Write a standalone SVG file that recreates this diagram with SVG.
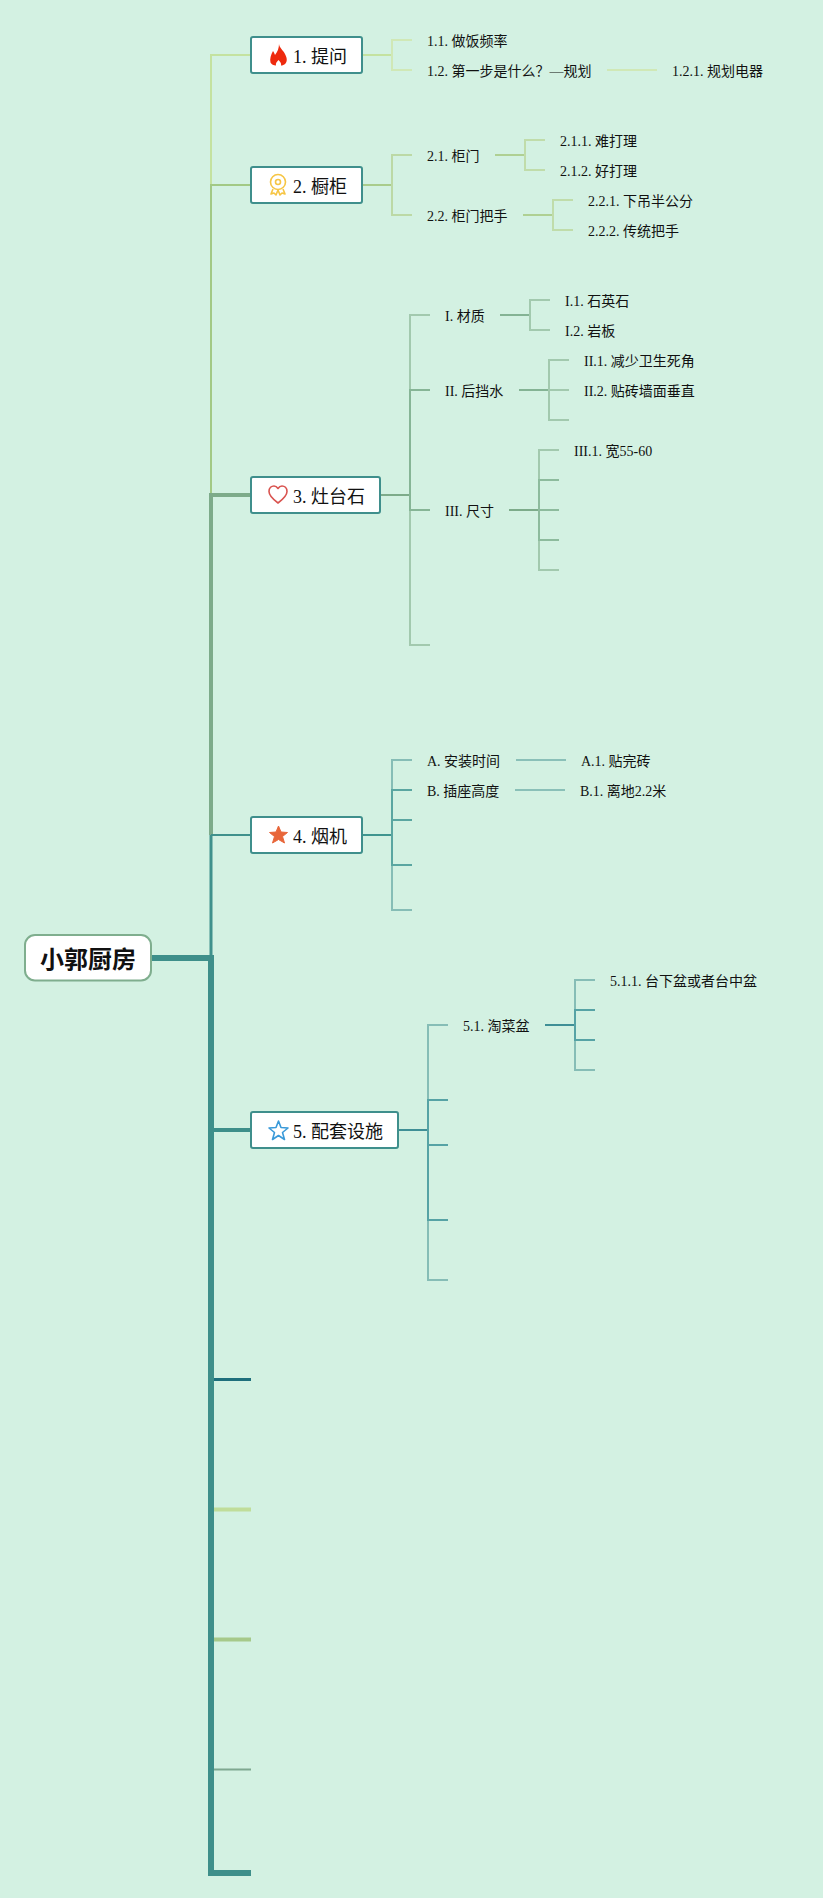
<svg xmlns="http://www.w3.org/2000/svg" width="823" height="1898" viewBox="0 0 823 1898">
<style>
text{font-family:"Liberation Serif","Noto Sans CJK SC",serif;fill:#111}
.s{font-size:14px}.t{font-size:18px}
.r{font-family:"Liberation Sans","Noto Sans CJK SC",sans-serif;font-size:24px;font-weight:700;text-anchor:middle}
.box{fill:#fff;stroke:#3f8f8c;stroke-width:2}
.icon{fill:none;stroke-width:1.6;stroke-linejoin:round}
</style>
<rect width="823" height="1898" fill="#d3f1e2"/>
<g id="connectors" fill="none" stroke-width="2">
<path d="M251 55H211V185" stroke="#c4e2a0"/>
<path d="M251 185H211V495" stroke="#a2c985"/>
<path d="M251 495H211V835" stroke="#7dab8a" stroke-width="4"/>
<path d="M211 835V958" stroke="#3f918c" stroke-width="3"/>
<path d="M211 835H251" stroke="#3f918c" stroke-width="2"/>
<path d="M151 958H211V1873H251" stroke="#3e8f8a" stroke-width="6"/>
<path d="M214 1130H251" stroke="#3e8f8a" stroke-width="4"/>
<path d="M214 1379.500H251" stroke="#1e6f7c" stroke-width="3"/>
<path d="M214 1509.500H251" stroke="#c0dd9a" stroke-width="4"/>
<path d="M214 1639.500H251" stroke="#a6c98a" stroke-width="4"/>
<path d="M214 1769.500H251" stroke="#7fa890"/>
<path d="M362 55H392" stroke="#c4e2a0"/>
<path d="M412 40H392V70H412" stroke="#d0e8b6"/>
<path d="M607 70H657" stroke="#d0e8b6"/>
<path d="M362 185H392" stroke="#a9cc8c"/>
<path d="M412 155H392V215H412" stroke="#bcd9a6"/>
<path d="M495 155H525" stroke="#afd093"/>
<path d="M545 140H525V170H545" stroke="#c0dcaa"/>
<path d="M523 215H553" stroke="#afd093"/>
<path d="M573 200H553V230H573" stroke="#c0dcaa"/>
<path d="M380 495H410" stroke="#7dab8a"/>
<path d="M430 315H410V645H430" stroke="#a2c9ae"/>
<path d="M430 390H410V510H430" stroke="#86b596"/>
<path d="M500 315H530" stroke="#84b394"/>
<path d="M550 300H530V330H550" stroke="#a2c9ae"/>
<path d="M519 390H549" stroke="#84b394"/>
<path d="M569 360H549V420H569M549 390H569" stroke="#a2c9ae"/>
<path d="M509 510H539" stroke="#7dab8a"/>
<path d="M559 450H539V570H559" stroke="#a2c9ae"/>
<path d="M559 480H539V540H559M539 510H559" stroke="#8dbb9d"/>
<path d="M362 835H392" stroke="#3f958f"/>
<path d="M412 760H392V910H412" stroke="#86bdb6"/>
<path d="M412 790H392V865H412M392 820H412" stroke="#5aa6a1"/>
<path d="M516 760H566M515 790H565" stroke="#8ac0b8"/>
<path d="M398 1130H428" stroke="#3f8f96"/>
<path d="M448 1025H428V1280H448" stroke="#86bdb6"/>
<path d="M448 1100H428V1220H448M428 1145H448" stroke="#56a3a5"/>
<path d="M545 1025H575" stroke="#3f8f96"/>
<path d="M595 980H575V1070H595" stroke="#86bdb6"/>
<path d="M595 1010H575V1040H595" stroke="#56a3a5"/>
</g>
<g id="root"><rect x="25" y="935" width="126" height="45.500" rx="10" fill="#fff" stroke="#7fae8e" stroke-width="2"/><text class="r" x="88" y="968">小郭厨房</text></g>
<g id="topic1"><rect class="box" x="251" y="37" width="111" height="36" rx="2"/><path d="M279 44C279.500 48 283 50 285 54C287 58 287.500 61 285.500 63.500C284 65 282.500 65.500 281 65.500C281.500 63.500 280.500 62 278.500 60C276.500 62 275.500 63.500 276 65.500C273.500 65.500 271.500 64.500 270.500 62.500C269.500 59 271 54.500 273 51C274 52.500 274.500 53.500 275 55C277.500 52 279 48 279 44Z" fill="#ee2a0e"/><text class="t" x="293" y="63">1. 提问</text></g>
<g id="topic2"><rect class="box" x="251" y="167" width="111" height="36" rx="2"/><g class="icon" stroke="#f6c544"><circle cx="278" cy="182" r="7.500"/><circle cx="278" cy="182" r="2.500"/><path d="M273 189L271 194L274 193L276 195L278 190L280 195L282 193L285 194L283 189"/></g><text class="t" x="293" y="193">2. 橱柜</text></g>
<g id="topic3"><rect class="box" x="251" y="477" width="129" height="36" rx="2"/><path class="icon" d="M278 503C274 500 269 496 269 491.500C269 488 271.500 486 274 486C276 486 277 487 278 488.500C279 487 280 486 282 486C284.500 486 287 488 287 491.500C287 496 282 500 278 503Z" stroke="#d9534f"/><text class="t" x="293" y="503">3. 灶台石</text></g>
<g id="topic4"><rect class="box" x="251" y="817" width="111" height="36" rx="2"/><path d="M278.500 826L281 832L287.500 832.500L282.500 836.500L284.500 843L278.500 839.500L272.500 843L274.500 836.500L269.500 832.500L276 832Z" fill="#e8663a" stroke="#e8663a" stroke-linejoin="round" stroke-width="1"/><text class="t" x="293" y="843">4. 烟机</text></g>
<g id="topic5"><rect class="box" x="251" y="1112" width="147" height="36" rx="2"/><path class="icon" d="M278.500 1121L281 1127.500L288 1128L282.500 1132.500L284.500 1139.500L278.500 1135.500L272.500 1139.500L274.500 1132.500L269 1128L276 1127.500Z" stroke="#3a9ad9"/><text class="t" x="293" y="1138">5. 配套设施</text></g>
<g id="t1-1"><text class="s" x="427" y="46">1.1. 做饭频率</text></g>
<g id="t1-2"><text class="s" x="427" y="76">1.2. 第一步是什么？—规划</text></g>
<g id="t1-2-1"><text class="s" x="672" y="76">1.2.1. 规划电器</text></g>
<g id="t2-1"><text class="s" x="427" y="161">2.1. 柜门</text></g>
<g id="t2-1-1"><text class="s" x="560" y="146">2.1.1. 难打理</text></g>
<g id="t2-1-2"><text class="s" x="560" y="176">2.1.2. 好打理</text></g>
<g id="t2-2"><text class="s" x="427" y="221">2.2. 柜门把手</text></g>
<g id="t2-2-1"><text class="s" x="588" y="206">2.2.1. 下吊半公分</text></g>
<g id="t2-2-2"><text class="s" x="588" y="236">2.2.2. 传统把手</text></g>
<g id="t3-1"><text class="s" x="445" y="321">I. 材质</text></g>
<g id="t3-1-1"><text class="s" x="565" y="306">I.1. 石英石</text></g>
<g id="t3-1-2"><text class="s" x="565" y="336">I.2. 岩板</text></g>
<g id="t3-2"><text class="s" x="445" y="396">II. 后挡水</text></g>
<g id="t3-2-1"><text class="s" x="584" y="366">II.1. 减少卫生死角</text></g>
<g id="t3-2-2"><text class="s" x="584" y="396">II.2. 贴砖墙面垂直</text></g>
<g id="t3-3"><text class="s" x="445" y="516">III. 尺寸</text></g>
<g id="t3-3-1"><text class="s" x="574" y="456">III.1. 宽55-60</text></g>
<g id="t4-1"><text class="s" x="427" y="766">A. 安装时间</text></g>
<g id="t4-1-1"><text class="s" x="581" y="766">A.1. 贴完砖</text></g>
<g id="t4-2"><text class="s" x="427" y="796">B. 插座高度</text></g>
<g id="t4-2-1"><text class="s" x="580" y="796">B.1. 离地2.2米</text></g>
<g id="t5-1"><text class="s" x="463" y="1031">5.1. 淘菜盆</text></g>
<g id="t5-1-1"><text class="s" x="610" y="986">5.1.1. 台下盆或者台中盆</text></g>
</svg>
